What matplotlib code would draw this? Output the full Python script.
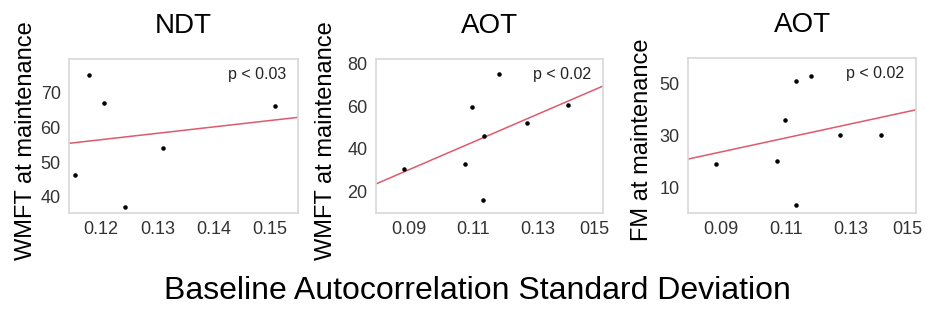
import matplotlib
matplotlib.use('Agg')
import matplotlib.pyplot as plt
from matplotlib.transforms import ScaledTranslation

plt.rcParams['font.family'] = ['Liberation Sans', 'DejaVu Sans']

# Panel data
titles = ['NDT', 'AOT', 'AOT']
ylabels = ['WMFT at maintenance', 'WMFT at maintenance', 'FM at maintenance']
ptexts = ['p < 0.03', 'p < 0.02', 'p < 0.02']

ndt_x = [0.1153, 0.1178, 0.1205, 0.1242, 0.1310, 0.1509]
ndt_y = [46.2, 75.1, 67.0, 37.1, 54.1, 66.1]

aot_x = [0.0887, 0.1074, 0.1097, 0.1130, 0.1133, 0.1178, 0.1266, 0.1393]
aot_wmft = [30.5, 32.8, 59.6, 16.3, 46.2, 75.0, 52.3, 60.7]
aot_fm = [19.0, 20.2, 36.1, 3.0, 51.3, 53.2, 30.2, 30.2]

# fitted lines (value at left and right edge)
fit_x = [[0.1143, 0.155], [0.08, 0.15], [0.08, 0.15]]
fit_y = [[55.4, 62.9], [23.6, 69.4], [20.9, 40.0]]

xlims = [(0.1143, 0.155), (0.08, 0.15), (0.08, 0.15)]
ylims = [(35.3, 79.7), (10, 82), (0, 60)]
xticks = [[0.12, 0.13, 0.14, 0.15], [0.09, 0.11, 0.13, 0.15], [0.09, 0.11, 0.13, 0.15]]
xticklabels = [['0.12', '0.13', '0.14', '0.15'], ['0.09', '0.11', '0.13', '015'],
               ['0.09', '0.11', '0.13', '015']]
yticks = [[40, 50, 60, 70], [20, 40, 60, 80], [10, 30, 50]]

xs = [ndt_x, aot_x, aot_x]
ys = [ndt_y, aot_wmft, aot_fm]

fig = plt.figure(figsize=(9.25, 3.09), dpi=100)
boxes = [[0.0746, 0.3107, 0.2476, 0.498],
         [0.4065, 0.3107, 0.2454, 0.498],
         [0.7438, 0.3107, 0.2465, 0.501]]
label_x = [-0.14, -0.172, -0.154]

for i in range(3):
    ax = fig.add_axes(boxes[i])
    ax.scatter(xs[i], ys[i], s=5, color='black', zorder=3)
    ax.plot(fit_x[i], fit_y[i], color='#de5a6c', linewidth=1.1)
    ax.set_xlim(xlims[i])
    ax.set_ylim(ylims[i])
    ax.set_xticks(xticks[i])
    ax.set_xticklabels(xticklabels[i])
    ax.set_yticks(yticks[i])
    ax.tick_params(length=0, labelsize=13, colors='#333333', pad=6)
    if i > 0:
        # the last label sits a little left of its tick in the original
        lab = ax.get_xticklabels()[-1]
        lab.set_transform(lab.get_transform() + ScaledTranslation(-0.09, 0, fig.dpi_scale_trans))
    for sp in ax.spines.values():
        sp.set_color('#d8d8d8')
        sp.set_linewidth(1.2)
    ax.set_title(titles[i], fontsize=20, pad=19)
    ax.set_ylabel(ylabels[i], fontsize=17)
    ax.yaxis.set_label_coords(label_x[i], 0.47)
    ax.text(0.948, 0.95, ptexts[i], transform=ax.transAxes, ha='right', va='top',
            fontsize=11.5, color='#222222')

fig.text(0.516, 0.032, 'Baseline Autocorrelation Standard Deviation',
         ha='center', va='baseline', fontsize=23)

fig.savefig('out.png', dpi=100)
